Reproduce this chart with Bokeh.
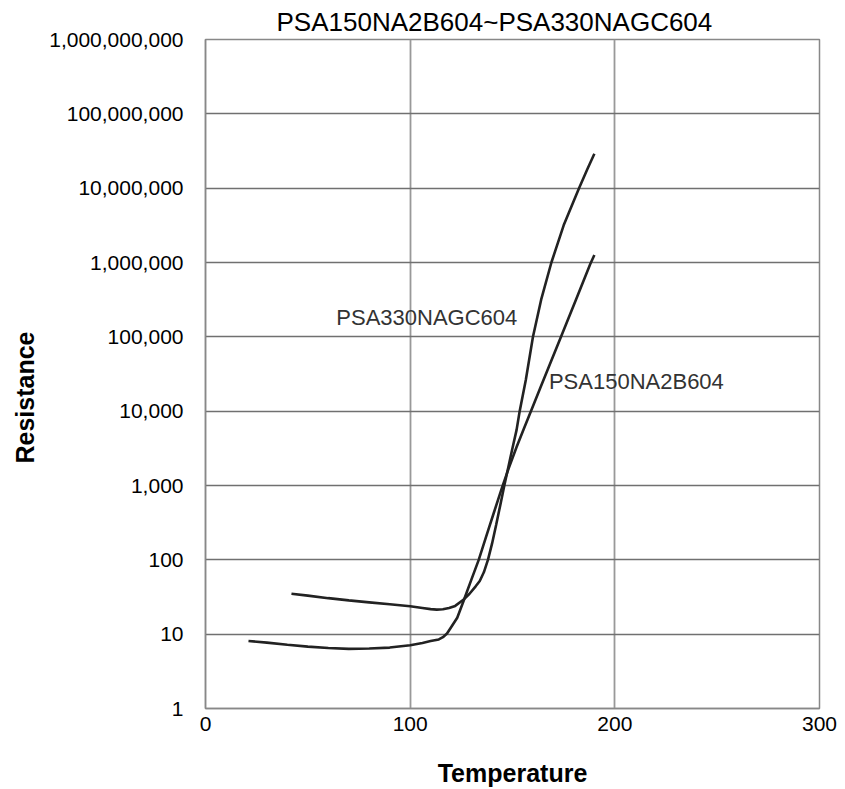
from bokeh.plotting import figure
from bokeh.models import Range1d, FixedTicker, NumeralTickFormatter, Title, Label
from bokeh.embed import file_html
from bokeh.resources import INLINE

# ---- data ----
x_ticks = [0, 100, 200, 300]
y_ticks = [1, 10, 100, 1000, 10000, 100000, 1000000, 10000000, 100000000, 1000000000]

# PSA150NA2B604 (starts low ~8 ohm)
t_150 = [21, 30, 40, 50, 60, 70, 80, 90, 100, 106, 110, 114, 116, 118, 120, 123, 126, 128, 130,
         133.5, 137, 141, 145, 148, 152, 155.5, 159, 164, 169, 174, 181, 188, 190]
r_150 = [8.1, 7.7, 7.2, 6.8, 6.5, 6.35, 6.4, 6.6, 7.1, 7.6, 8.1, 8.5, 9.1, 10.2, 12.4, 16.6, 27.5, 39, 55,
         100, 200, 440, 960, 1660, 3300, 5750, 10000, 21900, 47900, 105000, 316000, 955000, 1260000]

# PSA330NAGC604 (starts ~35 ohm)
t_330 = [42, 50, 60, 70, 80, 90, 100, 106, 110, 113, 116, 119, 122, 126, 129, 132, 134, 136, 138,
         140, 142, 144, 146, 148.3, 150, 152, 153.5, 156.5, 160, 164, 169, 175, 182.5, 186.5, 190]
r_330 = [35, 33, 30.5, 28.5, 26.8, 25.2, 23.7, 22.5, 21.7, 21.4, 21.6, 22.5, 24, 29, 35, 44, 52, 68, 100,
         165, 295, 540, 1000, 1950, 3200, 5600, 10000, 26300, 100000, 316000, 1000000, 3160000,
         10000000, 17800000, 29000000]

curve_labels = ["PSA330NAGC604", "PSA150NA2B604"]
label_x = [63.9, 167.8]
label_y = [183000, 24800]

FONT = "Liberation Sans"

p = figure(width=845, height=789,
           x_range=Range1d(0, 300), y_range=Range1d(1, 1e9),
           y_axis_type="log",
           output_backend="svg", toolbar_location=None,
           min_border_left=204, min_border_right=26,
           min_border_top=39, min_border_bottom=81)

p.background_fill_color = "white"
p.border_fill_color = "white"
p.outline_line_color = "#888888"
p.outline_line_width = 1.5

# title
p.title.text = "PSA150NA2B604~PSA330NAGC604"
p.title.text_font = FONT
p.title.text_font_size = "26px"
p.title.text_font_style = "normal"
p.title.text_color = "black"
p.title.align = "left"
p.title.offset = 71
p.title.standoff = 6

# axes
p.xaxis.ticker = FixedTicker(ticks=x_ticks)
p.yaxis.ticker = FixedTicker(ticks=y_ticks)
p.yaxis.formatter = NumeralTickFormatter(format="0,0")
for ax in (p.xaxis, p.yaxis):
    ax.major_tick_in = 0
    ax.major_tick_out = 0
    ax.minor_tick_in = 0
    ax.minor_tick_out = 0
    ax.axis_line_color = "#888888"
    ax.axis_line_width = 1.5
    ax.major_label_text_font = FONT
    ax.major_label_text_font_size = "21px"
    ax.major_label_text_color = "black"
p.xaxis.major_label_standoff = 8
p.yaxis.major_label_standoff = 22

p.xaxis.axis_label = "Temperature"
p.xaxis.axis_label_text_font = FONT
p.xaxis.axis_label_text_font_size = "25px"
p.xaxis.axis_label_text_font_style = "bold"
p.xaxis.axis_label_text_color = "black"
p.xaxis.axis_label_text_line_height = 0.8
p.xaxis.axis_label_standoff = 25

ytitle = Title(text="Resistance", align="left", offset=245, standoff=16,
               text_font=FONT, text_font_size="25px", text_font_style="bold",
               text_color="black")
p.add_layout(ytitle, "left")

# grid
p.xgrid.ticker = FixedTicker(ticks=x_ticks)
p.ygrid.ticker = FixedTicker(ticks=y_ticks)
p.xgrid.grid_line_color = "#999999"
p.xgrid.grid_line_width = 1.8
p.ygrid.grid_line_color = "#707070"
p.ygrid.grid_line_width = 1.3

# curves
p.line(t_150, r_150, line_color="#222222", line_width=2.6)
p.line(t_330, r_330, line_color="#222222", line_width=2.6)

for txt, lx, ly in zip(curve_labels, label_x, label_y):
    p.add_layout(Label(x=lx, y=ly, text=txt, text_font=FONT, text_font_size="22px",
                       text_baseline="middle", text_align="left", text_color="#333333"))

open("out.html", "w").write(file_html(p, INLINE))
